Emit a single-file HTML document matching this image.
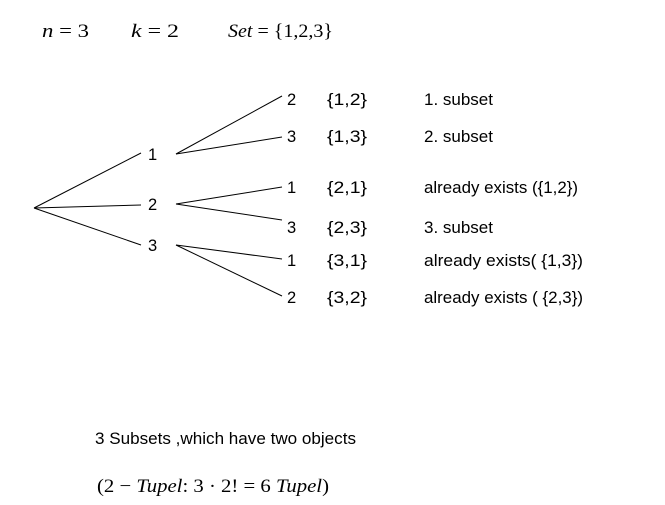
<!DOCTYPE html>
<html><head><meta charset="utf-8"><style>
html,body{margin:0;padding:0;background:#fff;}
svg{display:block;}
text{font-family:"Liberation Sans",sans-serif;font-size:16.5px;fill:#000;}
.m{font-family:"Liberation Serif",serif;font-size:19px;}
.i{font-style:italic;}
</style></head><body>
<svg width="665" height="505" viewBox="0 0 665 505" xmlns="http://www.w3.org/2000/svg">
<text class="m" x="42" y="37" textLength="47" lengthAdjust="spacingAndGlyphs"><tspan class="i">n</tspan> = 3</text>
<text class="m" x="131" y="37" textLength="48" lengthAdjust="spacingAndGlyphs"><tspan class="i">k</tspan> = 2</text>
<text class="m" x="228" y="37" textLength="105" lengthAdjust="spacingAndGlyphs"><tspan class="i">Set</tspan> = {1,2,3}</text>
<g stroke="#000" stroke-width="1" fill="none">
<line x1="34" y1="208" x2="141" y2="153"/>
<line x1="34" y1="208" x2="141" y2="205"/>
<line x1="34" y1="208" x2="141" y2="245"/>
<line x1="176" y1="154" x2="282" y2="96"/>
<line x1="176" y1="154" x2="282" y2="137"/>
<line x1="176" y1="204" x2="282" y2="187"/>
<line x1="176" y1="204" x2="282" y2="220"/>
<line x1="176" y1="245" x2="282" y2="259"/>
<line x1="176" y1="245" x2="282" y2="296"/>
</g>
<text x="148" y="160">1</text>
<text x="148" y="210">2</text>
<text x="148" y="251">3</text>
<text x="287" y="105">2</text>
<text x="287" y="142">3</text>
<text x="287" y="193">1</text>
<text x="287" y="233">3</text>
<text x="287" y="266">1</text>
<text x="287" y="303">2</text>
<g>
<text x="327" y="105" textLength="40" lengthAdjust="spacingAndGlyphs">{1,2}</text>
<text x="327" y="142" textLength="40" lengthAdjust="spacingAndGlyphs">{1,3}</text>
<text x="327" y="193" textLength="40" lengthAdjust="spacingAndGlyphs">{2,1}</text>
<text x="327" y="233" textLength="40" lengthAdjust="spacingAndGlyphs">{2,3}</text>
<text x="327" y="266" textLength="40" lengthAdjust="spacingAndGlyphs">{3,1}</text>
<text x="327" y="303" textLength="40" lengthAdjust="spacingAndGlyphs">{3,2}</text>
<text x="424" y="105" textLength="69" lengthAdjust="spacingAndGlyphs">1. subset</text>
<text x="424" y="142" textLength="69" lengthAdjust="spacingAndGlyphs">2. subset</text>
<text x="424" y="193" textLength="154" lengthAdjust="spacingAndGlyphs">already exists ({1,2})</text>
<text x="424" y="233" textLength="69" lengthAdjust="spacingAndGlyphs">3. subset</text>
<text x="424" y="266" textLength="159" lengthAdjust="spacingAndGlyphs">already exists(  {1,3})</text>
<text x="424" y="303" textLength="159" lengthAdjust="spacingAndGlyphs">already exists ( {2,3})</text>
<text x="95" y="444" textLength="261" lengthAdjust="spacingAndGlyphs">3 Subsets ,which have two objects</text>
</g>
<text class="m" x="97" y="492" textLength="232" lengthAdjust="spacingAndGlyphs">(2 − <tspan class="i">Tupel</tspan>: 3 · 2! = 6 <tspan class="i">Tupel</tspan>)</text>
</svg>
</body></html>
